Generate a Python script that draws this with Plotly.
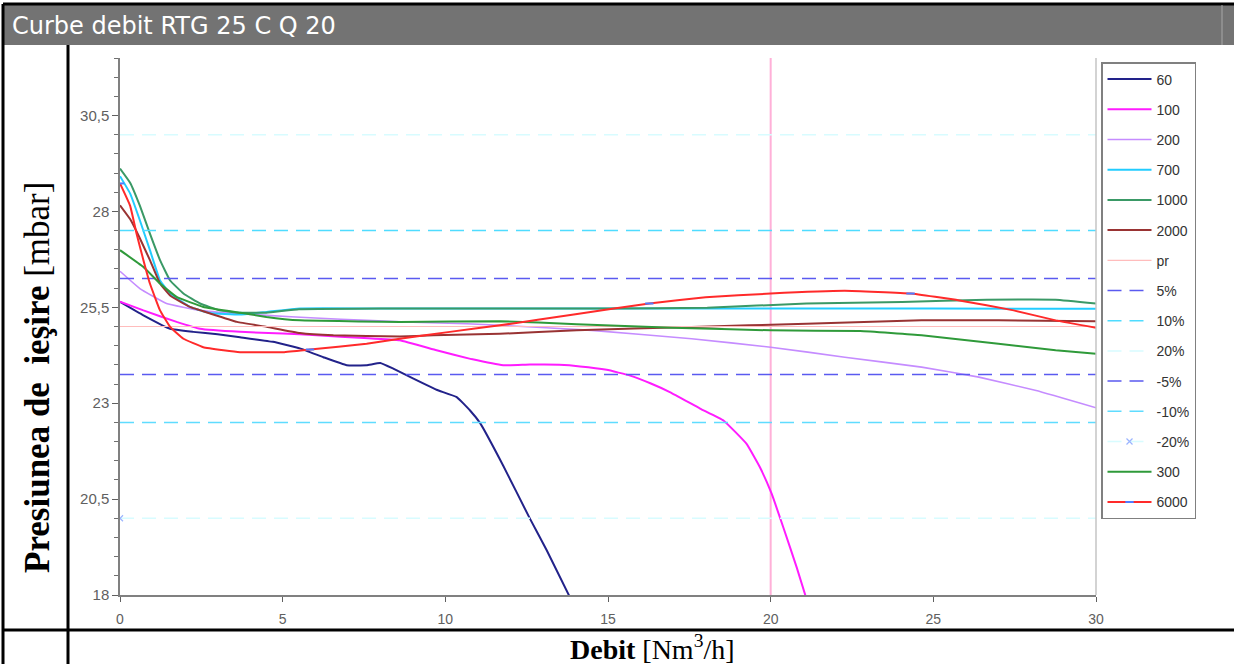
import plotly.graph_objects as go

# ---------------- data ----------------
x_60 = [0, 0.72, 1.54, 2.25, 3.0, 3.69, 4.7, 5.53, 6.25, 6.97, 7.58, 8.0, 8.4, 9.02, 9.73, 10.35, 10.76, 11.07, 11.78, 12.6, 13.12, 13.83]
y_60 = [25.64, 25.29, 24.94, 24.86, 24.8, 24.72, 24.6, 24.43, 24.2, 23.99, 23.99, 24.05, 23.9, 23.64, 23.35, 23.16, 22.81, 22.48, 21.37, 19.99, 19.16, 17.94]

x_100 = [0, 0.72, 1.74, 2.46, 3.69, 5.0, 6.05, 7.5, 8.6, 9.73, 10.8, 11.78, 12.6, 13.5, 14.14, 14.96, 15.68, 16.3, 16.9, 17.83, 18.55, 19.26, 19.67, 20.03, 20.39, 20.8, 21.1]
y_100 = [25.65, 25.42, 25.12, 24.94, 24.86, 24.82, 24.77, 24.7, 24.64, 24.38, 24.15, 23.99, 24.01, 24.0, 23.96, 23.87, 23.72, 23.52, 23.29, 22.86, 22.55, 21.94, 21.33, 20.64, 19.76, 18.72, 17.9]

x_200 = [0, 0.61, 1.43, 2.46, 3.5, 4.51, 6, 7.58, 9, 10.66, 11.68, 14.5, 17.57, 20, 22.28, 24.64, 26.4, 28.16, 30]
y_200 = [26.44, 25.99, 25.6, 25.42, 25.34, 25.29, 25.22, 25.16, 25.11, 25.07, 25.03, 24.9, 24.68, 24.46, 24.2, 23.94, 23.68, 23.33, 22.88]

x_700 = [0, 0.31, 0.61, 0.92, 1.23, 1.54, 2.15, 2.77, 3.69, 4.5, 5.53, 8, 12, 16, 20, 25, 30]
y_700 = [28.92, 28.47, 27.77, 26.99, 26.2, 25.86, 25.51, 25.35, 25.31, 25.38, 25.47, 25.47, 25.47, 25.47, 25.47, 25.47, 25.46]

x_1000 = [0, 0.31, 0.61, 0.92, 1.23, 1.54, 1.95, 2.46, 3.07, 3.69, 4.5, 5.5, 8, 12, 15, 18.05, 21.1, 24.04, 26.64, 28.76, 30]
y_1000 = [29.12, 28.75, 28.15, 27.42, 26.73, 26.2, 25.86, 25.6, 25.42, 25.36, 25.36, 25.45, 25.47, 25.47, 25.47, 25.49, 25.6, 25.64, 25.7, 25.7, 25.6]

x_2000 = [0, 0.31, 0.61, 0.92, 1.23, 1.54, 2.15, 2.77, 3.6, 4.51, 5.53, 6.56, 8.6, 9.63, 11.68, 14.04, 17.57, 21.1, 24.64, 27, 30]
y_2000 = [28.16, 27.8, 27.3, 26.73, 26.12, 25.81, 25.51, 25.34, 25.12, 24.99, 24.83, 24.77, 24.74, 24.77, 24.81, 24.9, 24.99, 25.07, 25.16, 25.16, 25.14]

x_300 = [0, 0.72, 1.23, 1.74, 2.56, 3.7, 4.5, 5.53, 8.6, 11.68, 14.04, 16.98, 20, 22.75, 24.64, 27, 28.76, 30]
y_300 = [26.99, 26.55, 26.12, 25.77, 25.51, 25.36, 25.25, 25.16, 25.12, 25.14, 25.06, 24.97, 24.9, 24.88, 24.77, 24.55, 24.38, 24.29]

x_6000 = [0, 0.31, 0.51, 0.72, 0.92, 1.23, 1.54, 1.95, 2.56, 3.18, 3.69, 5.02, 5.84, 7.58, 8.6, 10.14, 11.68, 14, 16.27, 18, 20, 22.28, 24.3, 25.8, 27.47, 28.76, 30]
y_6000 = [28.73, 28.15, 27.42, 26.73, 26.12, 25.42, 24.99, 24.68, 24.46, 24.38, 24.33, 24.33, 24.4, 24.55, 24.68, 24.86, 25.03, 25.32, 25.6, 25.76, 25.86, 25.93, 25.86, 25.68, 25.42, 25.16, 24.97]
marked_6000 = [0, 5.84, 16.27, 24.3]   # points where the blue marker shows

ref_x = [0, 30]
pr_value = 25.0
band_names = ["5%", "10%", "20%", "-5%", "-10%", "-20%"]
band_values = [26.25, 27.5, 30.0, 23.75, 22.5, 20.0]

nominal_flow = 20
x_ticks = [0, 5, 10, 15, 20, 25, 30]
y_ticks = [18, 20.5, 23, 25.5, 28, 30.5]
y_ticktext = ["18", "20,5", "23", "25,5", "28", "30,5"]

title_text = "Curbe debit RTG 25 C Q 20"
y_title = "<b>Presiunea de  ieşire</b> [mbar]"
x_title = "<b>Debit</b> [Nm<sup>3</sup>/h]"

# ---------------- figure ----------------
fig = go.Figure()

# vertical marker at nominal flow
fig.add_trace(go.Scatter(x=[nominal_flow, nominal_flow], y=[18, 32], mode="lines",
                         line=dict(color="#ffb0d8", width=2), showlegend=False, hoverinfo="skip"))

SMOOTH = 0.3

def curve(name, xs, ys, color, width=2):
    fig.add_trace(go.Scatter(x=xs, y=ys, name=name, mode="lines", legendgroup=name,
                             line=dict(color=color, width=width, shape="spline", smoothing=SMOOTH)))

curve("60", x_60, y_60, "#22228a")
curve("100", x_100, y_100, "#ff1cff")
curve("200", x_200, y_200, "#c58cff", 1.6)
curve("700", x_700, y_700, "#22ccff")
curve("1000", x_1000, y_1000, "#3a9966")
curve("2000", x_2000, y_2000, "#993333")

fig.add_trace(go.Scatter(x=ref_x, y=[pr_value, pr_value], name="pr", mode="lines", legendgroup="pr",
                         line=dict(color="#ffbcbc", width=1.2)))

band_styles = {
    "5%": dict(color="#5a5af0", width=1.5, dash="14px,8px"),
    "10%": dict(color="#4fdcff", width=1.5, dash="14px,8px"),
    "20%": dict(color="#d8fcff", width=1.5, dash="14px,8px"),
    "-5%": dict(color="#5a5af0", width=1.5, dash="14px,8px"),
    "-10%": dict(color="#5fdcff", width=1.5, dash="14px,8px"),
    "-20%": dict(color="#d8fcff", width=1.5, dash="14px,8px"),
}
for nm, val in zip(band_names, band_values):
    if nm == "-20%":
        fig.add_trace(go.Scatter(x=ref_x, y=[val, val], name=nm, mode="lines+markers", legendgroup=nm,
                                 line=band_styles[nm],
                                 marker=dict(symbol="x-thin", size=6,
                                             line=dict(width=1.2, color=["#9ab4ff", "rgba(0,0,0,0)"]))))
    else:
        fig.add_trace(go.Scatter(x=ref_x, y=[val, val], name=nm, mode="lines", legendgroup=nm,
                                 line=band_styles[nm]))

curve("300", x_300, y_300, "#2f9a3a")

mk_colors = ["#4f7cff" if xv in marked_6000 else "rgba(0,0,0,0)" for xv in x_6000]
fig.add_trace(go.Scatter(x=x_6000, y=y_6000, name="6000", mode="lines+markers", legendgroup="6000",
                         line=dict(color="#ff2a2a", width=2, shape="spline", smoothing=SMOOTH),
                         marker=dict(symbol="line-ew", size=6, line=dict(width=2, color=mk_colors))))

# ---------------- layout ----------------
L, R, T, B = 120, 138, 58, 69
W, H = 1234, 664
pw, ph = W - L - R, H - T - B

def px(xpix):
    return (xpix - L) / pw

def py(ypix):
    return (H - B - ypix) / ph

shapes = [
    # title bar
    dict(type="rect", xref="paper", yref="paper", x0=px(3), x1=px(1240), y0=py(45), y1=py(5),
         fillcolor="#737373", line=dict(width=0), layer="above"),
    dict(type="line", xref="paper", yref="paper", x0=px(3), x1=px(1240), y0=py(4), y1=py(4),
         line=dict(color="black", width=3)),
    dict(type="line", xref="paper", yref="paper", x0=px(1222), x1=px(1222), y0=py(45), y1=py(5),
         line=dict(color="#a8a8a8", width=1)),
    # table borders
    dict(type="line", xref="paper", yref="paper", x0=px(3), x1=px(3), y0=py(4), y1=py(670),
         line=dict(color="black", width=3)),
    dict(type="line", xref="paper", yref="paper", x0=px(68), x1=px(68), y0=py(45), y1=py(670),
         line=dict(color="black", width=3)),
    dict(type="line", xref="paper", yref="paper", x0=px(3), x1=px(1240), y0=py(630), y1=py(630),
         line=dict(color="black", width=3)),
    # right border of plot
    dict(type="line", xref="paper", yref="paper", x0=1, x1=1, y0=0, y1=1,
         line=dict(color="#c4c4c4", width=1.5)),
]

annotations = [
    dict(text=title_text, xref="paper", yref="paper", x=px(10), y=py(26), xanchor="left", yanchor="middle",
         showarrow=False, font=dict(family="DejaVu Sans", size=24, color="white")),
    dict(text=y_title, xref="paper", yref="paper", x=px(37), y=py(378), xanchor="center", yanchor="middle",
         textangle=-90, showarrow=False, font=dict(family="Liberation Serif", size=35, color="black")),
    dict(text=x_title, xref="paper", yref="paper", x=px(652), y=py(647), xanchor="center", yanchor="middle",
         showarrow=False, font=dict(family="Liberation Serif", size=28, color="black")),
]

fig.update_layout(
    width=W, height=H, autosize=False,
    margin=dict(l=L, r=R, t=T, b=B, pad=0),
    paper_bgcolor="white", plot_bgcolor="white",
    showlegend=True,
    legend=dict(x=px(1101), y=py(62), xanchor="left", yanchor="top",
                bgcolor="white", bordercolor="#808080", borderwidth=1.5,
                font=dict(family="Liberation Sans", size=14, color="#333333"),
                tracegroupgap=9, traceorder="grouped", itemwidth=44),
    shapes=shapes, annotations=annotations,
    xaxis=dict(range=[0, 30], tickvals=x_ticks, showgrid=False, zeroline=False,
               showline=True, linecolor="#808080", linewidth=1.5,
               ticks="outside", ticklen=5, tickcolor="#606060", tickwidth=1,
               tickfont=dict(family="Liberation Sans", size=14, color="#606060"),
               ticklabelstandoff=5),
    yaxis=dict(range=[18, 32], tickvals=y_ticks, ticktext=y_ticktext, showgrid=False, zeroline=False,
               showline=True, linecolor="#808080", linewidth=1.5,
               ticks="outside", ticklen=6, tickcolor="#606060", tickwidth=1,
               tickfont=dict(family="Liberation Sans", size=15, color="#606060"),
               minor=dict(tick0=18, dtick=0.5, ticks="outside", ticklen=4, tickcolor="#707070", showgrid=False)),
)

fig.write_html("out.html")
